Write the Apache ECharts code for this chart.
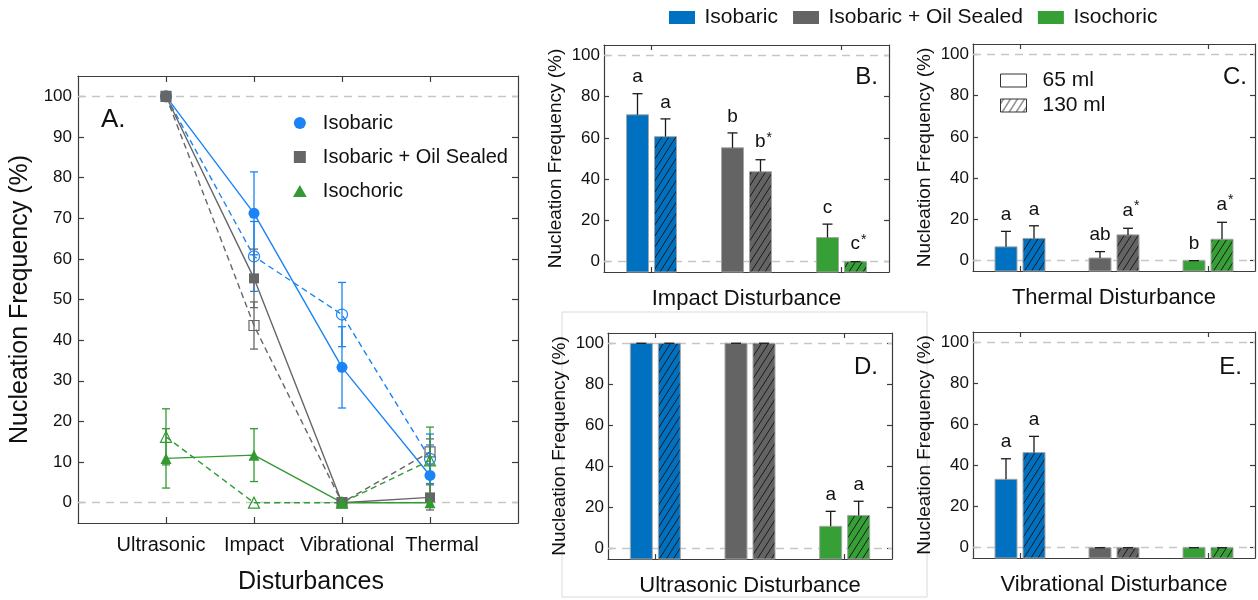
<!DOCTYPE html>
<html>
<head>
<meta charset="utf-8">
<script src="https://cdn.jsdelivr.net/npm/echarts@6/dist/echarts.min.js"></script>
<style>html,body{margin:0;padding:0;background:#fff}#chart{width:1258px;height:600px}</style>
</head>
<body>
<div id="chart"></div>
<script>
// ---------------- data ----------------
const categories = ['Ultrasonic', 'Impact', 'Vibrational', 'Thermal'];
const systems = ['Isobaric', 'Isobaric + Oil Sealed', 'Isochoric'];
const volumes = ['65 ml', '130 ml'];
const yTicksA = [0, 10, 20, 30, 40, 50, 60, 70, 80, 90, 100];
const yTicksBar = [0, 20, 40, 60, 80, 100];

// nucleation frequency (%) per disturbance: Ultrasonic, Impact, Vibrational, Thermal
const isobaric65 = [100, 71.2, 33.3, 6.7];
const isobaric65Err = [0, 10.2, 10.0, 7.5];
const isobaric130 = [100, 60.6, 46.3, 10.8];
const isobaric130Err = [0, 8.6, 7.9, 6.1];
const oil65 = [100, 55.2, 0, 1.3];
const oil65Err = [0, 7.2, 0, 3.1];
const oil130 = [100, 43.6, 0, 12.5];
const oil130Err = [0, 5.8, 0, 3.2];
const isochoric65 = [10.9, 11.7, 0, 0];
const isochoric65Err = [7.3, 6.5, 0, 0];
const isochoric130 = [16.2, 0, 0, 10.4];
const isochoric130Err = [6.9, 0, 0, 8.2];

// significance letters per system: [65 ml, 130 ml]
const lettersImpact = [['a', 'a'], ['b', 'b*'], ['c', 'c*']];
const lettersThermal = [['a', 'a'], ['ab', 'a*'], ['b', 'a*']];
const lettersUltrasonic = [['', ''], ['', ''], ['a', 'a']];
const lettersVibrational = [['a', 'a'], ['', ''], ['', '']];

// ---------------- styling ----------------
const FONT = '"Liberation Sans", Arial, Helvetica, sans-serif';
const TXT = '#111111';
const lineColors = ['#1a84f5', '#666666', '#339933'];
const barColors = ['#0070c0', '#646464', '#36a036'];
const Y_MIN = -5, Y_MAX = 105;
const BAR_W = 22, BAR_GAP = 6, CAP = 10;
const axisLineStyle = { color: '#3c3c3c', width: 1.2 };
// horizontal nudges of the category labels in panel A (as in the original figure)
const labelShiftA = [-5, 0, 5, 12];

function hatch(bg, fg) {
  const w = 7, h = 11;
  const c = document.createElement('canvas');
  c.width = w; c.height = h;
  const g = c.getContext('2d');
  g.fillStyle = bg; g.fillRect(0, 0, w, h);
  g.strokeStyle = fg; g.lineWidth = 1;
  g.beginPath();
  g.moveTo(-w, 2 * h); g.lineTo(2 * w, -h);
  g.moveTo(-2 * w, 2 * h); g.lineTo(w, -h);
  g.moveTo(0, 2 * h); g.lineTo(3 * w, -h);
  g.stroke();
  return { image: c, repeat: 'repeat' };
}
const hatchFills = barColors.map(c => hatch(c, '#1b1b1b'));
const hatchWhite = hatch('#ffffff', '#333333');

const refLine = {
  silent: true, symbol: 'none', z: 1,
  label: { show: false },
  emphasis: { disabled: true },
  lineStyle: { type: [8, 6], color: '#c6c6c6', width: 1.3 },
  data: [{ yAxis: 0 }, { yAxis: 100 }]
};

function errRenderer(col) {
  return function (params, api) {
    const x = api.value(0), v = api.value(1), e = api.value(2);
    if (!e) return { type: 'group', children: [] };
    const hi = api.coord([x, v + e]), lo = api.coord([x, v - e]);
    const w = 4;
    const st = { stroke: col, lineWidth: 1.3 };
    return { type: 'group', children: [
      { type: 'line', shape: { x1: hi[0], y1: hi[1], x2: lo[0], y2: lo[1] }, style: st },
      { type: 'line', shape: { x1: hi[0] - w, y1: hi[1], x2: hi[0] + w, y2: hi[1] }, style: st },
      { type: 'line', shape: { x1: lo[0] - w, y1: lo[1], x2: lo[0] + w, y2: lo[1] }, style: st }
    ] };
  };
}

function barRenderer(vol, letters) {
  return function (params, api) {
    const j = api.value(0), v = api.value(1), e = api.value(2);
    const top = api.coord([j, v]);
    const base = api.coord([j, Y_MIN]);
    const eTop = api.coord([j, v + e]);
    const cx = top[0] + (vol === 0 ? -1 : 1) * (BAR_W + BAR_GAP) / 2;
    const st = { stroke: '#1a1a1a', lineWidth: 1.3 };
    const children = [
      { type: 'rect', shape: { x: cx - BAR_W / 2, y: top[1], width: BAR_W, height: base[1] - top[1] },
        style: { fill: vol === 0 ? barColors[j] : hatchFills[j], stroke: '#a6a6a6', lineWidth: 1 } },
      { type: 'line', shape: { x1: cx, y1: top[1], x2: cx, y2: eTop[1] }, style: st },
      { type: 'line', shape: { x1: cx - CAP / 2, y1: eTop[1], x2: cx + CAP / 2, y2: eTop[1] }, style: st }
    ];
    const t = letters[j][vol];
    if (t) {
      const starred = t.endsWith('*');
      const txt = starred ? t.slice(0, -1) + '{s|*}' : t;
      children.push({ type: 'text', style: {
        text: txt, x: cx + (starred ? 3 : 0), y: eTop[1] - 7, align: 'center', verticalAlign: 'bottom',
        font: '19px ' + FONT, fill: TXT,
        rich: { s: { fontSize: 14, fontFamily: FONT, fill: TXT, padding: [0, 0, 8, 1] } }
      } });
    }
    return { type: 'group', children };
  };
}

const grids = [], xAxes = [], yAxes = [], series = [];

// ---------------- panel A ----------------
grids.push({ left: 78, top: 76, width: 440, height: 452 });
const xPos = categories.map((c, i) => i + 1);
const richA = {};
labelShiftA.forEach((s, i) => {
  richA['c' + i] = { fontSize: 20, color: TXT, fontFamily: FONT, padding: s >= 0 ? [0, 0, 0, 2 * s] : [0, -2 * s, 0, 0] };
});
xAxes.push({
  gridIndex: 0, type: 'value', min: 0, max: categories.length + 1, position: 'bottom',
  axisLine: { show: true, onZero: false, lineStyle: axisLineStyle },
  axisTick: { show: true, inside: true, length: 6, customValues: xPos, lineStyle: axisLineStyle },
  axisLabel: {
    customValues: xPos, fontSize: 20, color: TXT, margin: 12, rich: richA,
    formatter: v => { const i = Math.round(v) - 1; return categories[i] ? '{c' + i + '|' + categories[i] + '}' : ''; }
  },
  splitLine: { show: false },
  name: 'Disturbances', nameLocation: 'middle', nameGap: 47,
  nameTextStyle: { fontSize: 25, color: TXT, padding: [0, 0, 0, 26] }
});
xAxes.push({
  gridIndex: 0, type: 'value', min: 0, max: categories.length + 1, position: 'top',
  axisLine: { show: true, onZero: false, lineStyle: axisLineStyle },
  axisTick: { show: true, inside: true, length: 6, customValues: xPos, lineStyle: axisLineStyle },
  axisLabel: { show: false }, splitLine: { show: false }
});
yAxes.push({
  gridIndex: 0, type: 'value', min: Y_MIN, max: Y_MAX, position: 'left',
  axisLine: { show: true, onZero: false, lineStyle: axisLineStyle },
  axisTick: { show: true, inside: true, length: 6, customValues: yTicksA, lineStyle: axisLineStyle },
  axisLabel: { customValues: yTicksA, fontSize: 17, color: TXT, margin: 6 },
  splitLine: { show: false },
  name: 'Nucleation Frequency (%)', nameLocation: 'middle', nameGap: 45, nameTextStyle: { fontSize: 25, color: TXT }
});
yAxes.push({
  gridIndex: 0, type: 'value', min: Y_MIN, max: Y_MAX, position: 'right',
  axisLine: { show: true, onZero: false, lineStyle: axisLineStyle },
  axisTick: { show: true, inside: true, length: 6, customValues: yTicksA, lineStyle: axisLineStyle },
  axisLabel: { show: false }, splitLine: { show: false }
});

const aSeries = [
  { name: 'Isobaric', vals: isobaric65, errs: isobaric65Err, c: 0, open: false, symbol: 'circle', size: 11 },
  { name: 'Isobaric (130 ml)', vals: isobaric130, errs: isobaric130Err, c: 0, open: true, symbol: 'circle', size: 11 },
  { name: 'Isobaric + Oil Sealed', vals: oil65, errs: oil65Err, c: 1, open: false, symbol: 'rect', size: 10 },
  { name: 'Isobaric + Oil Sealed (130 ml)', vals: oil130, errs: oil130Err, c: 1, open: true, symbol: 'rect', size: 10 },
  { name: 'Isochoric', vals: isochoric65, errs: isochoric65Err, c: 2, open: false, symbol: 'triangle', size: 11 },
  { name: 'Isochoric (130 ml)', vals: isochoric130, errs: isochoric130Err, c: 2, open: true, symbol: 'triangle', size: 11 }
];
aSeries.forEach((s, k) => {
  const col = lineColors[s.c];
  series.push({
    type: 'custom', name: s.name + ' error', xAxisIndex: 0, yAxisIndex: 0, z: 9, silent: true,
    data: s.vals.map((v, i) => [i + 1, v, s.errs[i]]), renderItem: errRenderer(col)
  });
  const ser = {
    type: 'line', name: s.name, xAxisIndex: 0, yAxisIndex: 0, z: 10, silent: true,
    data: s.vals.map((v, i) => [i + 1, v]),
    symbol: s.symbol, symbolSize: s.size, showSymbol: true,
    lineStyle: { color: col, width: 1.4, type: s.open ? [6, 4] : 'solid' },
    itemStyle: s.open ? { color: 'rgba(255,255,255,0)', borderColor: col, borderWidth: 1.2 } : { color: col }
  };
  if (k === 0) ser.markLine = refLine;
  series.push(ser);
});

// ---------------- panels B-E ----------------
const panels = [
  { dist: 1, letter: 'B.', letters: lettersImpact, grid: { left: 604, top: 45, width: 285, height: 227 } },
  { dist: 3, letter: 'C.', letters: lettersThermal, grid: { left: 973, top: 44, width: 282, height: 227 } },
  { dist: 0, letter: 'D.', letters: lettersUltrasonic, grid: { left: 608, top: 333, width: 284, height: 226 } },
  { dist: 2, letter: 'E.', letters: lettersVibrational, grid: { left: 973, top: 332, width: 282, height: 226 } }
];
const vals65 = [isobaric65, oil65, isochoric65], errs65 = [isobaric65Err, oil65Err, isochoric65Err];
const vals130 = [isobaric130, oil130, isochoric130], errs130 = [isobaric130Err, oil130Err, isochoric130Err];

panels.forEach((p, pi) => {
  const gi = pi + 1;
  grids.push(p.grid);
  const catAxis = (pos, named) => Object.assign({
    gridIndex: gi, type: 'category', data: systems, position: pos,
    axisLine: { show: true, onZero: false, lineStyle: axisLineStyle },
    axisTick: { show: true, inside: true, alignWithLabel: true, length: 5, lineStyle: axisLineStyle },
    axisLabel: { show: false }, splitLine: { show: false }
  }, named ? { name: categories[p.dist] + ' Disturbance', nameLocation: 'middle', nameGap: 16, nameTextStyle: { fontSize: 22, color: TXT } } : {});
  xAxes.push(catAxis('bottom', true));
  xAxes.push(catAxis('top', false));
  const valAxis = (pos, named) => Object.assign({
    gridIndex: gi, type: 'value', min: Y_MIN, max: Y_MAX, position: pos,
    axisLine: { show: true, onZero: false, lineStyle: axisLineStyle },
    axisTick: { show: true, inside: true, length: 5, customValues: yTicksBar, lineStyle: axisLineStyle },
    axisLabel: named ? { customValues: yTicksBar, fontSize: 17, color: TXT, margin: 4 } : { show: false },
    splitLine: { show: false }
  }, named ? { name: 'Nucleation Frequency (%)', nameLocation: 'middle', nameGap: 39, nameTextStyle: { fontSize: 19, color: TXT } } : {});
  yAxes.push(valAxis('left', true));
  yAxes.push(valAxis('right', false));
  [0, 1].forEach(vol => {
    const vals = vol === 0 ? vals65 : vals130;
    const errs = vol === 0 ? errs65 : errs130;
    const ser = {
      type: 'custom', name: volumes[vol], xAxisIndex: 2 * gi, yAxisIndex: 2 * gi, z: 10, silent: true,
      data: systems.map((s, j) => [j, vals[j][p.dist], errs[j][p.dist]]),
      renderItem: barRenderer(vol, p.letters)
    };
    if (vol === 0) ser.markLine = refLine;
    series.push(ser);
  });
});

// ---------------- legends & annotations ----------------
const legends = [
  {
    left: 669, top: 7, padding: 0, itemWidth: 35, itemHeight: 13, itemGap: 15, selectedMode: false,
    textStyle: { fontSize: 21, color: TXT },
    data: systems.map((s, j) => ({ name: s, icon: 'path://M0,0H2V1H0Z', itemStyle: { color: barColors[j], borderWidth: 0 } }))
  },
  {
    orient: 'vertical', left: 293, top: 113, padding: 0, itemWidth: 36, itemHeight: 12, itemGap: 14, selectedMode: false,
    textStyle: { fontSize: 20, color: TXT },
    data: [
      { name: systems[0], icon: 'circle', itemStyle: { color: lineColors[0], borderWidth: 0 } },
      { name: systems[1], icon: 'path://M0,0H1V1H0Z', itemStyle: { color: lineColors[1], borderWidth: 0 } },
      { name: systems[2], icon: 'path://M1,0L2,1.75H0Z', itemStyle: { color: lineColors[2], borderWidth: 0 } }
    ]
  },
  {
    orient: 'vertical', left: 1000, top: 70, padding: 0, itemWidth: 48, itemHeight: 13, itemGap: 4, selectedMode: false,
    textStyle: { fontSize: 21, color: TXT },
    data: [
      { name: volumes[0], icon: 'path://M0,0H2V1H0Z', itemStyle: { color: '#ffffff', borderColor: '#333333', borderWidth: 1 } },
      { name: volumes[1], icon: 'path://M0,0H2V1H0Z', itemStyle: { color: hatchWhite, borderColor: '#333333', borderWidth: 1 } }
    ]
  }
];

const letterText = (txt, x, y, size, align) => ({
  type: 'text', x: x, y: y, silent: true,
  style: { text: txt, font: size + 'px ' + FONT, fill: TXT, align: align, verticalAlign: 'middle' }
});
const graphics = [
  { type: 'rect', silent: true, z: -1, shape: { x: 562, y: 312, width: 365, height: 285 }, style: { fill: 'none', stroke: '#dadada', lineWidth: 1 } },
  letterText('A.', 101, 120, 26, 'left'),
  letterText('B.', 878, 77, 24, 'right'),
  letterText('C.', 1247, 77, 24, 'right'),
  letterText('D.', 878, 367, 24, 'right'),
  letterText('E.', 1242, 367, 24, 'right')
];

const chart = echarts.init(document.getElementById('chart'), null, { renderer: 'canvas' });
chart.setOption({
  animation: false,
  backgroundColor: '#ffffff',
  textStyle: { fontFamily: FONT },
  grid: grids, xAxis: xAxes, yAxis: yAxes,
  legend: legends,
  graphic: graphics,
  series: series
});
</script>
</body>
</html>
